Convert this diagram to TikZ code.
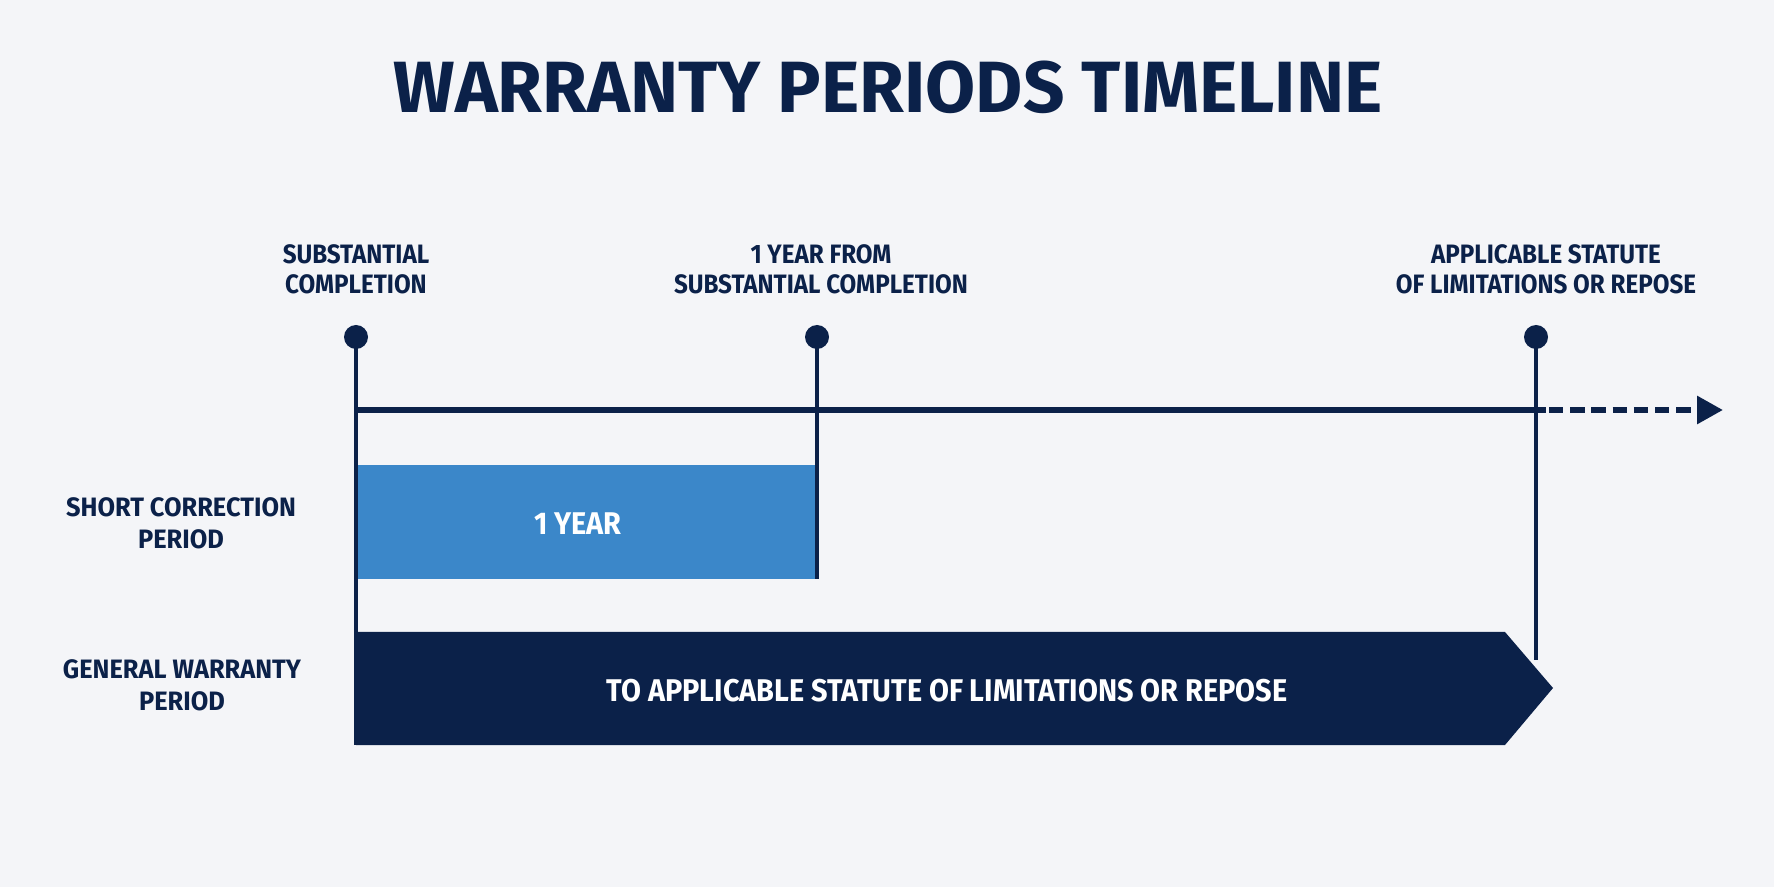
\documentclass[tikz,border=0pt]{standalone}
\usepackage{fontspec}
\setmainfont{Fira Sans}[BoldFont={Fira Sans Bold}]
\newfontfamily\titlefont{Fira Sans Bold}
\newfontfamily\toplabelfont{Fira Sans Bold}[FakeStretch=0.91]
\newfontfamily\sidelabelfont{Fira Sans Bold}[FakeStretch=0.955]
\newfontfamily\barfont{Fira Sans Bold}[FakeStretch=0.92]
\usetikzlibrary{arrows.meta}
\definecolor{navy}{HTML}{0B2149}
\definecolor{lightblue}{HTML}{3B87C9}
\definecolor{bg}{HTML}{F4F5F8}
\tikzset{
  toplbl/.style={text=navy, font=\toplabelfont\fontsize{13.3}{15}\selectfont, align=center, inner sep=0pt},
  sidelbl/.style={text=navy, font=\sidelabelfont\fontsize{13.3}{15.8}\selectfont, align=center, inner sep=0pt},
  barlbl/.style={text=white, font=\barfont\fontsize{15.7}{17}\selectfont, align=center, inner sep=0pt},
  dotmark/.style={circle, fill=navy, minimum size=12pt, inner sep=0pt},
  vline/.style={navy, line width=2pt},
  tline/.style={navy, line width=3pt},
}
\begin{document}
\begin{tikzpicture}[x=0.5pt, y=-0.5pt]
\useasboundingbox (0,0) rectangle (1774,887);
\fill[bg] (0,0) rectangle (1774,887);
% title
\node[text=navy, font=\titlefont\fontsize{36.3}{38}\selectfont, inner sep=0pt] (title) at (888,87) {WARRANTY PERIODS TIMELINE};
% top labels
\node[toplbl] (l1) at (356,269) {SUBSTANTIAL\\COMPLETION};
\node[toplbl] (l2) at (821,269) {1 YEAR FROM\\SUBSTANTIAL COMPLETION};
\node[toplbl] (l3) at (1546,269) {APPLICABLE STATUTE\\OF LIMITATIONS OR REPOSE};
% left labels
\node[sidelbl] (s1) at (181,523) {SHORT CORRECTION\\PERIOD};
\node[sidelbl] (s2) at (182,685) {GENERAL WARRANTY\\PERIOD};
% bars
\fill[lightblue] (356,465) rectangle (817,579);
\node[barlbl] (oneyear) at (578,524) {1 YEAR};
\fill[navy] (356,632) -- (1505,632) -- (1553,688) -- (1505,745) -- (356,745) -- cycle;
\node[barlbl] (general) at (947,691) {TO APPLICABLE STATUTE OF LIMITATIONS OR REPOSE};
% coordinates
\coordinate (d1) at (356,337);
\coordinate (d2) at (817,337);
\coordinate (d3) at (1536,337);
\coordinate (b1) at (356,745);
\coordinate (b2) at (817,579);
\coordinate (b3) at (1536,660);
\coordinate (t0) at (356,410);
\coordinate (t1) at (1546,410);
\coordinate (t2) at (1723,410);
% vertical lines
\draw[vline] (d1) -- (b1);
\draw[vline] (d2) -- (b2);
\draw[vline] (d3) -- (b3);
% timeline
\draw[tline] (t0) -- (t1);
\draw[tline, dash pattern=on 7.2pt off 3.4pt, -{Triangle[length=13pt,width=13.5pt]}] (t1) ++(3,0) -- (t2);
% dots
\node[dotmark] (p1) at (d1) {};
\node[dotmark] (p2) at (d2) {};
\node[dotmark] (p3) at (d3) {};
\end{tikzpicture}
\end{document}
